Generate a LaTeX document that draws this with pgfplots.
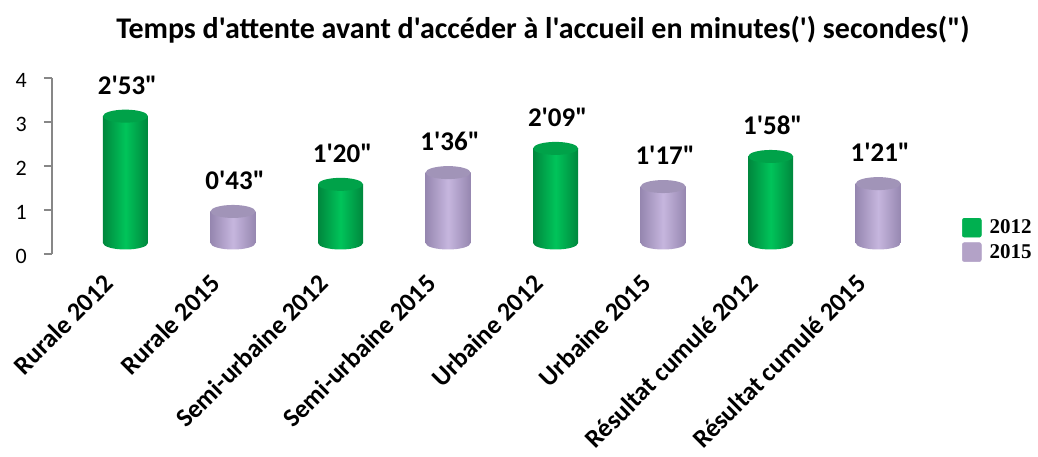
\documentclass[border=0pt]{standalone}
\usepackage{fontspec}
\usepackage{pgfplots}
\usepackage{pgfplotstable}
\pgfplotsset{compat=1.18}
\newfontfamily\cf{Carlito}
\newfontfamily\lsf{Liberation Serif}

\definecolor{g1}{HTML}{00873D}
\definecolor{g2}{HTML}{00C45A}
\definecolor{gt}{HTML}{00A249}
\definecolor{gl}{HTML}{00B050}
\definecolor{p1}{HTML}{9687B0}
\definecolor{p2}{HTML}{C6B6DE}
\definecolor{pt}{HTML}{A194B8}
\definecolor{pl}{HTML}{B3A2C7}

% cylinder ends (explicit pt units: inside the axis a bare (0,0) means axis cs)
\pgfdeclareplotmark{b12}{\shade[draw=none, left color=g1, right color=g1, middle color=g2] (0pt,0pt) ellipse [x radius=22.5pt, y radius=6.5pt];}
\pgfdeclareplotmark{b15}{\shade[draw=none, left color=p1, right color=p1, middle color=p2] (0pt,0pt) ellipse [x radius=22.5pt, y radius=6.5pt];}
\pgfdeclareplotmark{t12}{\fill[draw=none, gt, rotate=3] (0pt,0pt) ellipse [x radius=22.5pt, y radius=6.5pt];}
\pgfdeclareplotmark{t15}{\fill[draw=none, pt, rotate=3] (0pt,0pt) ellipse [x radius=22.5pt, y radius=6.5pt];}

% 2012 bars
\pgfplotstableread{
x v lab
0 2.883 2'53"
2 1.333 1'20"
4 2.150 2'09"
6 1.967 1'58"
}\dA
% 2015 bars
\pgfplotstableread{
x v lab
1 0.717 0'43"
3 1.600 1'36"
5 1.283 1'17"
7 1.350 1'21"
}\dB

\pgfplotsset{
  cylA/.style={ybar, bar width=45pt, bar shift=0pt, draw=none, forget plot,
    left color=g1, right color=g1, middle color=g2},
  cylB/.style={ybar, bar width=45pt, bar shift=0pt, draw=none, forget plot,
    left color=p1, right color=p1, middle color=p2},
  lbl/.style={nodes near coords, point meta=explicit symbolic,
    every node near coord/.append style={font=\cf\bfseries\fontsize{27}{30}\selectfont,
      anchor=base, inner sep=0pt, yshift=22pt, xshift=2pt, text=black}},
}
\def\floor{0.25}

\begin{document}
\begin{tikzpicture}[font=\cf]
\path[use as bounding box] (-52pt,-203pt) rectangle (986pt,254pt);
\begin{axis}[
    at={(0,0)}, anchor=south west,
    scale only axis, width=880pt, height=176pt,
    xmin=-0.683, xmax=7.5, ymin=0, ymax=4, enlargelimits=false,
    axis y line*=left, axis x line*=bottom,
    x axis line style={draw=none},
    y axis line style={draw=black!47, line width=1.8pt},
    ytick={0,...,4}, tick align=outside, major tick length=8pt,
    major y tick style={draw=black!47, line width=1.5pt},
    xtick={0,...,7}, major x tick style={draw=none},
    xticklabels={Rurale 2012, Rurale 2015, Semi-urbaine 2012, Semi-urbaine 2015,
        Urbaine 2012, Urbaine 2015, Résultat cumulé 2012, Résultat cumulé 2015},
    xticklabel style={font=\cf\bfseries\fontsize{26}{30}\selectfont,
        inner sep=0pt, xshift=-17pt, yshift=-17pt, rotate=45, anchor=east},
    /pgf/number format/assume math mode=true,
    yticklabel style={font=\cf\fontsize{22}{25}\selectfont, inner sep=0pt, anchor=east, yshift=-2pt},
    yticklabel shift=17pt,
    title={Temps d'attente avant d'accéder à l'accueil en minutes(') secondes(")},
    title style={font=\cf\bfseries\fontsize{30}{33}\selectfont, at={(axis description cs:0.5,1)},
        anchor=south, inner sep=0pt, xshift=51pt, yshift=29pt},
    legend style={draw=none, fill=none, at={(axis description cs:1.034,0.08)}, anchor=west,
        font=\lsf\bfseries\fontsize{21}{23}\selectfont, row sep=5pt, column sep=7pt,
        inner sep=0pt, nodes={inner sep=1pt}},
    legend cell align=left,
]
\addlegendimage{legend image code/.code={\fill[gl, rounded corners=2pt] (0pt,-9.5pt) rectangle (19pt,9.5pt);}}
\addlegendentry{2012}
\addlegendimage{legend image code/.code={\fill[pl, rounded corners=2pt] (0pt,-9.5pt) rectangle (19pt,9.5pt);}}
\addlegendentry{2015}
% cylinder bodies, one plot per bar so that each gets its own shading
\addplot[cylA, restrict x to domain=-0.1:0.1] table[x=x, y expr=\thisrow{v}+\floor]{\dA};
\addplot[cylA, restrict x to domain=1.9:2.1] table[x=x, y expr=\thisrow{v}+\floor]{\dA};
\addplot[cylA, restrict x to domain=3.9:4.1] table[x=x, y expr=\thisrow{v}+\floor]{\dA};
\addplot[cylA, restrict x to domain=5.9:6.1] table[x=x, y expr=\thisrow{v}+\floor]{\dA};
\addplot[cylB, restrict x to domain=0.9:1.1] table[x=x, y expr=\thisrow{v}+\floor]{\dB};
\addplot[cylB, restrict x to domain=2.9:3.1] table[x=x, y expr=\thisrow{v}+\floor]{\dB};
\addplot[cylB, restrict x to domain=4.9:5.1] table[x=x, y expr=\thisrow{v}+\floor]{\dB};
\addplot[cylB, restrict x to domain=6.9:7.1] table[x=x, y expr=\thisrow{v}+\floor]{\dB};
% raised floor of the 3-D chart
\fill[white] (axis cs:-0.4,0) rectangle (axis cs:7.4,\floor);
\addplot[only marks, mark=b12, forget plot] table[x=x, y expr=\floor]{\dA};
\addplot[only marks, mark=b15, forget plot] table[x=x, y expr=\floor]{\dB};
\addplot[only marks, mark=t12, forget plot, lbl] table[x=x, y expr=\thisrow{v}+\floor, meta=lab]{\dA};
\addplot[only marks, mark=t15, forget plot, lbl] table[x=x, y expr=\thisrow{v}+\floor, meta=lab]{\dB};
\end{axis}
\end{tikzpicture}
\end{document}
